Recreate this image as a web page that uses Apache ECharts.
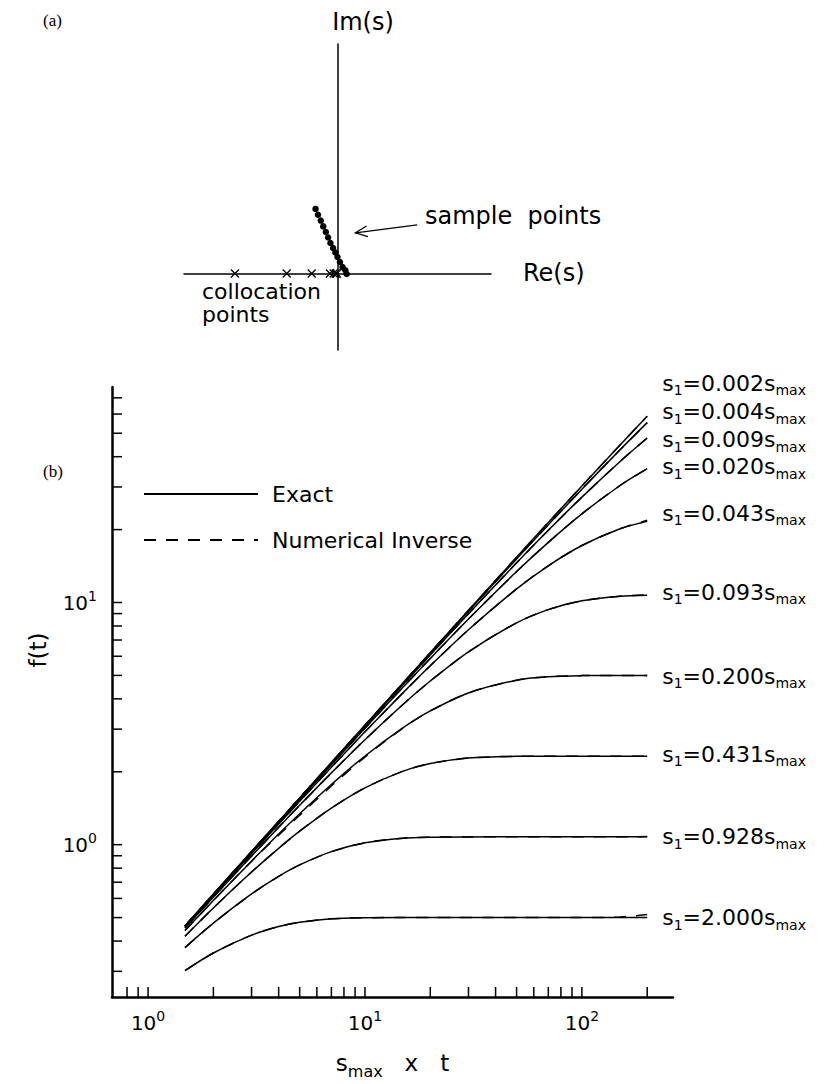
<!DOCTYPE html>
<html><head><meta charset="utf-8">
<script src="https://cdn.jsdelivr.net/npm/echarts@6/dist/echarts.min.js"></script>
<style>html,body{margin:0;padding:0;background:#fff}#c{width:826px;height:1084px}</style>
</head><body><div id="c"></div>
<script>
// ---------- panel (b) data ----------
const T = [1.48, 2, 3, 4, 5, 7, 10, 15, 20, 30, 50, 70, 100, 150, 200];
const s1Names = ['0.002', '0.004', '0.009', '0.020', '0.043', '0.093', '0.200', '0.431', '0.928', '2.000'];
const exact0002 = [0.462, 0.625, 0.937, 1.248, 1.560, 2.183, 3.115, 4.666, 6.211, 9.288, 15.38, 21.40, 30.29, 44.75, 58.75];
const exact0004 = [0.462, 0.624, 0.936, 1.247, 1.558, 2.178, 3.106, 4.644, 6.173, 9.201, 15.15, 20.95, 29.38, 42.74, 55.30];
const exact0009 = [0.4615, 0.623, 0.934, 1.243, 1.552, 2.166, 3.081, 4.590, 6.078, 8.990, 14.58, 19.86, 27.24, 38.24, 47.80];
const exact0020 = [0.460, 0.621, 0.929, 1.235, 1.538, 2.140, 3.029, 4.475, 5.875, 8.549, 13.42, 17.72, 23.24, 30.42, 35.68];
const exact0043 = [0.458, 0.617, 0.919, 1.217, 1.511, 2.088, 2.924, 4.245, 5.481, 7.716, 11.38, 14.18, 17.19, 20.16, 21.67];
const exact0093 = [0.453, 0.607, 0.898, 1.180, 1.454, 1.979, 2.712, 3.799, 4.740, 6.256, 8.238, 9.347, 10.16, 10.62, 10.72];
const exact0200 = [0.442, 0.588, 0.855, 1.106, 1.342, 1.772, 2.324, 3.042, 3.567, 4.233, 4.780, 4.937, 4.990, 5.000, 5.000];
const exact0431 = [0.419, 0.548, 0.771, 0.966, 1.137, 1.416, 1.717, 2.013, 2.163, 2.279, 2.317, 2.320, 2.320, 2.320, 2.320];
const exact0928 = [0.376, 0.474, 0.626, 0.740, 0.825, 0.936, 1.018, 1.064, 1.074, 1.077, 1.078, 1.078, 1.078, 1.078, 1.078];
const exact2000 = [0.302, 0.357, 0.423, 0.459, 0.478, 0.494, 0.499, 0.500, 0.500, 0.500, 0.500, 0.500, 0.500, 0.500, 0.500];

const numer0002 = [0.462, 0.625, 0.937, 1.248, 1.560, 2.183, 3.115, 4.666, 6.211, 9.288, 15.38, 21.40, 30.29, 44.75, 58.75];
const numer0004 = [0.462, 0.624, 0.936, 1.247, 1.558, 2.178, 3.106, 4.644, 6.173, 9.201, 15.15, 20.95, 29.38, 42.74, 55.30];
const numer0009 = [0.4615, 0.623, 0.934, 1.243, 1.552, 2.166, 3.081, 4.590, 6.078, 8.990, 14.58, 19.86, 27.24, 38.24, 47.80];
const numer0020 = [0.460, 0.621, 0.929, 1.235, 1.538, 2.140, 3.029, 4.475, 5.875, 8.549, 13.42, 17.72, 23.24, 30.42, 35.68];
const numer0043 = [0.458, 0.617, 0.919, 1.217, 1.511, 2.088, 2.924, 4.245, 5.481, 7.716, 11.38, 14.18, 17.19, 20.16, 21.85];
const numer0093 = [0.453, 0.607, 0.898, 1.180, 1.454, 1.979, 2.712, 3.799, 4.740, 6.256, 8.238, 9.347, 10.16, 10.62, 10.74];
const numer0200 = [0.442, 0.588, 0.855, 1.095, 1.322, 1.748, 2.300, 3.035, 3.567, 4.233, 4.780, 4.937, 4.990, 5.000, 5.000];
const numer0431 = [0.419, 0.548, 0.771, 0.966, 1.137, 1.416, 1.717, 2.013, 2.163, 2.279, 2.317, 2.320, 2.320, 2.320, 2.320];
const numer0928 = [0.376, 0.474, 0.626, 0.740, 0.825, 0.936, 1.018, 1.064, 1.074, 1.077, 1.078, 1.078, 1.078, 1.078, 1.080];
const numer2000 = [0.302, 0.357, 0.423, 0.459, 0.478, 0.494, 0.499, 0.500, 0.500, 0.500, 0.500, 0.500, 0.500, 0.503, 0.515];

const exactSets = [exact0002, exact0004, exact0009, exact0020, exact0043, exact0093, exact0200, exact0431, exact0928, exact2000];
const numerSets = [numer0002, numer0004, numer0009, numer0020, numer0043, numer0093, numer0200, numer0431, numer0928, numer2000];

const xTickValues = [0.8, 0.9, 1, 2, 3, 4, 5, 6, 7, 8, 9, 10, 20, 30, 40, 50, 60, 70, 80, 90, 100, 200];
const yTickValues = [0.3, 0.4, 0.5, 0.6, 0.7, 0.8, 0.9, 1, 2, 3, 4, 5, 6, 7, 8, 9, 10, 20, 30, 40, 50, 60, 70];

// ---------- panel (a) data ----------
const sampleRe = [-1.43, -1.27, -1.09, -0.93, -0.76, -0.61, -0.46, -0.29, -0.14, 0.00, 0.16, 0.33, 0.51, 0.60];
const sampleIm = [4.22, 3.84, 3.46, 3.08, 2.71, 2.35, 1.99, 1.67, 1.37, 1.08, 0.75, 0.42, 0.21, -0.03];
const collocRe = [-6.68, -3.31, -1.68, -0.49, -0.25, -0.12, -0.04];
const arrowTail = [5.19, 3.18];
const arrowHead = [1.17, 2.66];

// ---------- layout / style ----------
const FONT = 'DejaVu Sans';
const X_MIN = 0.682, X_MAX = 263, Y_MIN = 0.235, Y_MAX = 77.6;
const TICK_LEN = 10;
const labelDy = [-33, -11, 2, -2, -8, -3, 1, -2, 0, 0];

function isPow10(v) { const l = Math.log10(v); return Math.abs(l - Math.round(l)) < 1e-6; }
function powLabel(v) { return isPow10(v) ? '{b|10}{sup|' + Math.round(Math.log10(v)) + '}' : ''; }

const series = [];
exactSets.forEach((arr) => {
  series.push({
    type: 'line', name: 'Exact', xAxisIndex: 0, yAxisIndex: 0,
    data: T.map((t, j) => [t, arr[j]]), showSymbol: false, symbol: 'none',
    smooth: 0.3, silent: true,
    lineStyle: { color: '#000', width: 1.5 }, itemStyle: { color: '#000' }
  });
});
numerSets.forEach((arr) => {
  series.push({
    type: 'line', name: 'Numerical Inverse', xAxisIndex: 0, yAxisIndex: 0,
    data: T.map((t, j) => [t, arr[j]]), showSymbol: false, symbol: 'none',
    smooth: 0.3, silent: true,
    lineStyle: { color: '#000', width: 1.5, type: [12, 10] }, itemStyle: { color: '#000' }
  });
});
// minor/major ticks drawn inward through the axis scales
series.push({
  type: 'custom', name: 'xticks', xAxisIndex: 0, yAxisIndex: 0, silent: true, clip: false,
  data: xTickValues.map(v => [v, Y_MIN]),
  renderItem: (p, api) => { const c = api.coord([api.value(0), api.value(1)]);
    return { type: 'line', shape: { x1: c[0], y1: c[1], x2: c[0], y2: c[1] - TICK_LEN }, style: { stroke: '#000', lineWidth: 1.5 } }; }
});
series.push({
  type: 'custom', name: 'yticks', xAxisIndex: 0, yAxisIndex: 0, silent: true, clip: false,
  data: yTickValues.map(v => [X_MIN, v]),
  renderItem: (p, api) => { const c = api.coord([api.value(0), api.value(1)]);
    return { type: 'line', shape: { x1: c[0], y1: c[1], x2: c[0] + TICK_LEN, y2: c[1] }, style: { stroke: '#000', lineWidth: 1.5 } }; }
});
// curve labels at the right end
series.push({
  type: 'custom', name: 'curveLabels', xAxisIndex: 0, yAxisIndex: 0, silent: true, clip: false,
  data: exactSets.map((arr, i) => [T[T.length - 1], arr[arr.length - 1], i]),
  renderItem: (p, api) => { const c = api.coord([api.value(0), api.value(1)]); const i = api.value(2);
    return { type: 'text', x: c[0] + 15, y: c[1] + labelDy[i],
      style: { text: '{m|s}{sub|1}{m|=' + s1Names[i] + 's}{sub|max}', fill: '#000', verticalAlign: 'middle', align: 'left',
        rich: { m: { fontSize: 22, fontFamily: FONT, fill: '#000' }, sub: { fontSize: 14, fontFamily: FONT, fill: '#000', padding: [14, 0, 0, 0] } } } }; }
});
// panel (a)
series.push({
  type: 'scatter', name: 'sample', xAxisIndex: 1, yAxisIndex: 1, silent: true,
  data: sampleRe.map((r, i) => [r, sampleIm[i]]), symbol: 'circle', symbolSize: 6.5,
  itemStyle: { color: '#000', opacity: 1 }
});
series.push({
  type: 'scatter', name: 'colloc', xAxisIndex: 1, yAxisIndex: 1, silent: true,
  data: collocRe.map(r => [r, 0]), symbol: 'path://M0 0 L10 10 M10 0 L0 10', symbolSize: 8,
  itemStyle: { color: 'rgba(0,0,0,0)', borderColor: '#000', borderWidth: 1.3, opacity: 1 }
});
series.push({
  type: 'custom', name: 'arrow', xAxisIndex: 1, yAxisIndex: 1, silent: true, clip: false,
  data: [[arrowTail[0], arrowTail[1], arrowHead[0], arrowHead[1]]],
  renderItem: (p, api) => {
    const a = api.coord([api.value(0), api.value(1)]), b = api.coord([api.value(2), api.value(3)]);
    const dx = a[0] - b[0], dy = a[1] - b[1], L = Math.hypot(dx, dy); const ux = dx / L, uy = dy / L;
    const h = 13, ang = 0.42, cs = Math.cos(ang), sn = Math.sin(ang);
    const p1 = [b[0] + h * (ux * cs - uy * sn), b[1] + h * (ux * sn + uy * cs)];
    const p2 = [b[0] + h * (ux * cs + uy * sn), b[1] + h * (-ux * sn + uy * cs)];
    return { type: 'group', children: [
      { type: 'line', shape: { x1: a[0], y1: a[1], x2: b[0], y2: b[1] }, style: { stroke: '#000', lineWidth: 1.3 } },
      { type: 'polyline', shape: { points: [p1, b, p2] }, style: { stroke: '#000', lineWidth: 1.3, fill: null } }
    ] };
  }
});

const txt = (text, x, y, size, align, family, rot) => ({ type: 'text', x: x, y: y, silent: true, rotation: rot || 0,
  style: { text: text, fontSize: size, fontFamily: family || FONT, fill: '#000', align: align || 'left', verticalAlign: 'middle' } });

const option = {
  backgroundColor: '#fff',
  animation: false,
  textStyle: { fontFamily: FONT, color: '#000' },
  grid: [
    { left: 112, top: 387, right: 153, bottom: 80 },
    { left: 184, top: 44, width: 307, height: 306 }
  ],
  legend: {
    data: ['Exact', 'Numerical Inverse'], orient: 'vertical', left: 138, top: 478,
    itemWidth: 114, itemHeight: 20, itemGap: 24, selectedMode: false,
    itemStyle: { color: 'rgba(0,0,0,0)', borderWidth: 0, opacity: 0 },
    textStyle: { fontFamily: FONT, fontSize: 22, color: '#000', padding: [0, 0, 0, 9] }
  },
  xAxis: [
    { type: 'log', logBase: 10, gridIndex: 0, min: X_MIN, max: X_MAX,
      axisLine: { show: true, onZero: false, lineStyle: { color: '#000', width: 2.5 } },
      axisTick: { show: false }, splitLine: { show: false }, minorTick: { show: false },
      axisLabel: { formatter: powLabel, showMinLabel: false, showMaxLabel: false, margin: 12, color: '#000',
        rich: { b: { fontSize: 20, fontFamily: FONT }, sup: { fontSize: 14, fontFamily: FONT, padding: [0, 0, 14, 0] } } },
      name: '{m|s}{sub|max}{m|\u00a0\u00a0\u00a0x\u00a0\u00a0\u00a0t}', nameLocation: 'middle', nameGap: 50,
      nameTextStyle: { color: '#000', rich: { m: { fontSize: 23, fontFamily: FONT }, sub: { fontSize: 16, fontFamily: FONT, padding: [16, 0, 0, 0] } } } },
    { type: 'value', gridIndex: 1, min: -10, max: 10,
      axisLine: { show: true, onZero: true, lineStyle: { color: '#000', width: 1.5 } },
      axisTick: { show: false }, axisLabel: { show: false }, splitLine: { show: false } }
  ],
  yAxis: [
    { type: 'log', logBase: 10, gridIndex: 0, min: Y_MIN, max: Y_MAX,
      axisLine: { show: true, onZero: false, lineStyle: { color: '#000', width: 2.5 } },
      axisTick: { show: false }, splitLine: { show: false }, minorTick: { show: false },
      axisLabel: { formatter: powLabel, showMinLabel: false, showMaxLabel: false, margin: 15, color: '#000',
        rich: { b: { fontSize: 20, fontFamily: FONT }, sup: { fontSize: 14, fontFamily: FONT, padding: [0, 0, 14, 0] } } } },
    { type: 'value', gridIndex: 1, min: -5, max: 15,
      axisLine: { show: true, onZero: true, lineStyle: { color: '#000', width: 1.5 } },
      axisTick: { show: false }, axisLabel: { show: false }, splitLine: { show: false } }
  ],
  graphic: [
    txt('Im(s)', 363, 22, 24, 'center'),
    txt('Re(s)', 523, 273, 24, 'left'),
    txt('sample\u00a0\u00a0points', 425, 216, 24, 'left'),
    txt('collocation', 202, 291, 22, 'left'),
    txt('points', 202, 314, 22, 'left'),
    txt('f(t)', 38, 650, 23, 'center', null, Math.PI / 2),
    txt('(a)', 43, 20, 17, 'left', 'Liberation Serif'),
    txt('(b)', 43, 471, 17, 'left', 'Liberation Serif')
  ],
  series: series
};

const chart = echarts.init(document.getElementById('c'), null, { renderer: 'svg', width: 826, height: 1084 });
chart.setOption(option);
</script>
</body></html>
